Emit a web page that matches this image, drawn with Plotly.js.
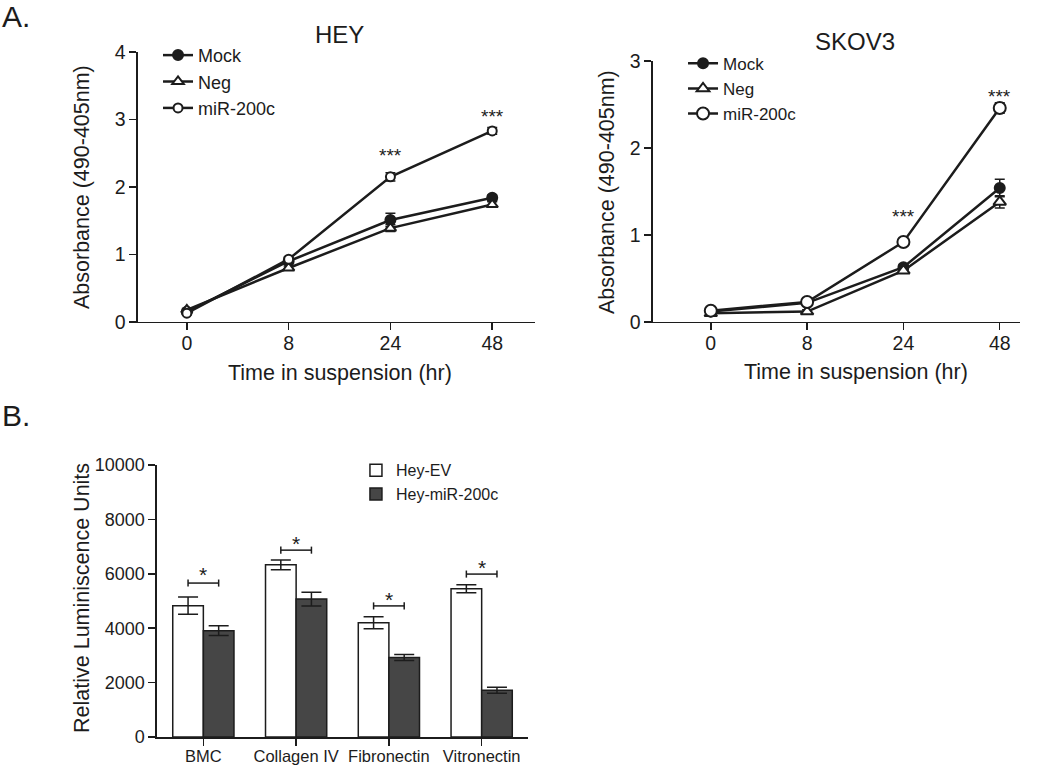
<!DOCTYPE html>
<html>
<head>
<meta charset="utf-8">
<script src="https://cdn.plot.ly/plotly-3.0.1.min.js"></script>
<style>
html,body{margin:0;padding:0;background:#fff;}
#chart{width:1050px;height:769px;}
</style>
</head>
<body>
<div id="chart"></div>
<script>
// ---------- Data ----------
const timeLabels = ['0', '8', '24', '48'];
const seriesNames = ['Mock', 'Neg', 'miR-200c'];

// HEY panel
const heyMock = [0.15, 0.90, 1.51, 1.84];
const heyMockErr = [0.02, 0.03, 0.10, 0.04];
const heyNeg = [0.18, 0.80, 1.39, 1.74];
const heyNegErr = [0.02, 0.03, 0.05, 0.04];
const heyMir = [0.13, 0.93, 2.15, 2.83];
const heyMirErr = [0.02, 0.03, 0.06, 0.05];
const heySigLabels = ['', '', '***', '***'];
const heySigY = [null, null, 2.46, 3.04];

// SKOV3 panel
const skMock = [0.12, 0.22, 0.63, 1.54];
const skMockErr = [0.02, 0.02, 0.03, 0.10];
const skNeg = [0.10, 0.12, 0.59, 1.38];
const skNegErr = [0.02, 0.02, 0.03, 0.07];
const skMir = [0.13, 0.23, 0.92, 2.46];
const skMirErr = [0.02, 0.02, 0.03, 0.06];
const skSigLabels = ['', '', '***', '***'];
const skSigY = [null, null, 1.21, 2.59];

// Bar panel
const substrates = ['BMC', 'Collagen IV', 'Fibronectin', 'Vitronectin'];
const barNames = ['Hey-EV', 'Hey-miR-200c'];
const heyEV = [4830, 6330, 4200, 5450];
const heyEVErr = [320, 180, 220, 150];
const heyMiR = [3910, 5070, 2920, 1720];
const heyMiRErr = [180, 250, 110, 110];
const barSigLabels = ['*', '*', '*', '*'];
const bracketY = [5660, 6870, 4820, 5990];
const starY = [5990, 7130, 5070, 6250];

// ---------- Styles ----------
const INK = '#1c1c1c';
const FONT = 'Liberation Sans, Arial, sans-serif';

function lineTrace(y, err, name, symbol, fill, xa, ya, legend, msize) {
  return {
    type: 'scatter', mode: 'lines+markers',
    x: timeLabels, y: y, name: name,
    xaxis: xa, yaxis: ya, legend: legend,
    line: {color: INK, width: 2.5},
    marker: {symbol: symbol, size: msize, color: fill, line: {color: INK, width: 2}},
    error_y: {type: 'data', array: err, visible: true, color: INK, thickness: 1.5, width: 5},
    cliponaxis: false
  };
}

const traces = [
  lineTrace(heyMock, heyMockErr, seriesNames[0], 'circle', INK, 'x', 'y', 'legend', 10),
  lineTrace(heyNeg, heyNegErr, seriesNames[1], 'triangle-up', '#fff', 'x', 'y', 'legend', 10),
  lineTrace(heyMir, heyMirErr, seriesNames[2], 'circle', '#fff', 'x', 'y', 'legend', 9),
  lineTrace(skMock, skMockErr, seriesNames[0], 'circle', INK, 'x2', 'y2', 'legend2', 10),
  lineTrace(skNeg, skNegErr, seriesNames[1], 'triangle-up', '#fff', 'x2', 'y2', 'legend2', 11),
  lineTrace(skMir, skMirErr, seriesNames[2], 'circle', '#fff', 'x2', 'y2', 'legend2', 12),
  {
    type: 'bar', x: substrates, y: heyEV, name: barNames[0],
    xaxis: 'x3', yaxis: 'y3', legend: 'legend3',
    marker: {color: '#ffffff', line: {color: INK, width: 1.5}},
    error_y: {type: 'data', array: heyEVErr, visible: true, color: INK, thickness: 1.5, width: 10}
  },
  {
    type: 'bar', x: substrates, y: heyMiR, name: barNames[1],
    xaxis: 'x3', yaxis: 'y3', legend: 'legend3',
    marker: {color: '#464646', line: {color: INK, width: 1.5}},
    error_y: {type: 'data', array: heyMiRErr, visible: true, color: INK, thickness: 1.5, width: 10}
  }
];

// ---------- Axes ----------
function baseAxis(extra) {
  return Object.assign({
    showline: true, linecolor: INK, linewidth: 1.5,
    ticks: 'outside', ticklen: 7, tickwidth: 1.5, tickcolor: INK,
    showgrid: false, zeroline: false, fixedrange: true,
    tickfont: {family: FONT, size: 19.5, color: INK}
  }, extra);
}

const annotations = [];
function addText(text, x, y, size, opts) {
  annotations.push(Object.assign({
    text: text, x: x, y: y, xref: 'paper', yref: 'paper',
    showarrow: false, font: {family: FONT, size: size, color: INK},
    xanchor: 'center', yanchor: 'middle'
  }, opts || {}));
}

// panel labels and titles
addText('A.', 0.0, 0.978, 30, {xanchor: 'left'});
addText('B.', 0.0, 0.4603, 30, {xanchor: 'left'});
addText('HEY', 0.3238, 0.9545, 24);
addText('SKOV3', 0.8143, 0.9454, 24);
// axis titles
addText('Absorbance (490-405nm)', 0.0781, 0.7568, 21.5, {textangle: -90});
addText('Time in suspension (hr)', 0.3238, 0.5150, 21.5);
addText('Absorbance (490-405nm)', 0.5781, 0.7503, 21.5, {textangle: -90});
addText('Time in suspension (hr)', 0.8152, 0.5163, 21.5);
addText('Relative Luminiscence Units', 0.0781, 0.2224, 21.5, {textangle: -90});

// significance stars on line charts
timeLabels.forEach((t, i) => {
  if (heySigLabels[i]) annotations.push({text: heySigLabels[i], x: i, y: heySigY[i], xref: 'x', yref: 'y',
    showarrow: false, font: {family: FONT, size: 19, color: INK}});
  if (skSigLabels[i]) annotations.push({text: skSigLabels[i], x: i, y: skSigY[i], xref: 'x2', yref: 'y2',
    showarrow: false, font: {family: FONT, size: 19, color: INK}});
});

// brackets + stars on bar chart
const shapes = [];
const half = 0.165, cap = 130;
substrates.forEach((s, i) => {
  const ln = {color: INK, width: 1.5};
  shapes.push({type: 'line', xref: 'x3', yref: 'y3', x0: i - half, x1: i + half, y0: bracketY[i], y1: bracketY[i], line: ln});
  shapes.push({type: 'line', xref: 'x3', yref: 'y3', x0: i - half, x1: i - half, y0: bracketY[i] - cap, y1: bracketY[i] + cap, line: ln});
  shapes.push({type: 'line', xref: 'x3', yref: 'y3', x0: i + half, x1: i + half, y0: bracketY[i] - cap, y1: bracketY[i] + cap, line: ln});
  annotations.push({text: barSigLabels[i], x: i, y: starY[i], xref: 'x3', yref: 'y3',
    showarrow: false, font: {family: FONT, size: 21, color: INK}});
});

const legendBase = {
  bgcolor: 'rgba(0,0,0,0)', borderwidth: 0, xanchor: 'left', yanchor: 'top',
  itemclick: false, itemdoubleclick: false, tracegroupgap: 0
};

const layout = {
  width: 1050, height: 769,
  margin: {l: 0, r: 0, t: 0, b: 0},
  paper_bgcolor: '#fff', plot_bgcolor: '#fff',
  font: {family: FONT, color: INK},
  showlegend: true,
  barmode: 'group', bargap: 0.34, bargroupgap: 0,
  xaxis: baseAxis({domain: [0.1314, 0.5095], anchor: 'y', type: 'category', range: [-0.48, 3.42], ticklabelstandoff: -4}),
  yaxis: baseAxis({domain: [0.5813, 0.9324], anchor: 'x', range: [0, 4], dtick: 1}),
  xaxis2: baseAxis({domain: [0.6219, 0.9714], anchor: 'y2', type: 'category', range: [-0.6, 3.21], ticklabelstandoff: -4}),
  yaxis2: baseAxis({domain: [0.5813, 0.9207], anchor: 'x2', range: [0, 3], dtick: 1}),
  xaxis3: baseAxis({domain: [0.1495, 0.5029], anchor: 'y3', type: 'category', range: [-0.5, 3.5], ticklabelstandoff: -3,
    tickfont: {family: FONT, size: 16.5, color: INK}}),
  yaxis3: baseAxis({domain: [0.0416, 0.3953], anchor: 'x3', range: [0, 10000], dtick: 2000, tickformat: 'd',
    tickfont: {family: FONT, size: 18, color: INK}}),
  legend: Object.assign({}, legendBase, {x: 0.1505, y: 0.952, font: {family: FONT, size: 18, color: INK}}),
  legend2: Object.assign({}, legendBase, {x: 0.6505, y: 0.9405, font: {family: FONT, size: 17, color: INK}}),
  legend3: Object.assign({}, legendBase, {x: 0.3390, y: 0.4105, font: {family: FONT, size: 16, color: INK}}),
  annotations: annotations,
  shapes: shapes
};

Plotly.newPlot('chart', traces, layout, {displayModeBar: false, staticPlot: true});
</script>
</body>
</html>
